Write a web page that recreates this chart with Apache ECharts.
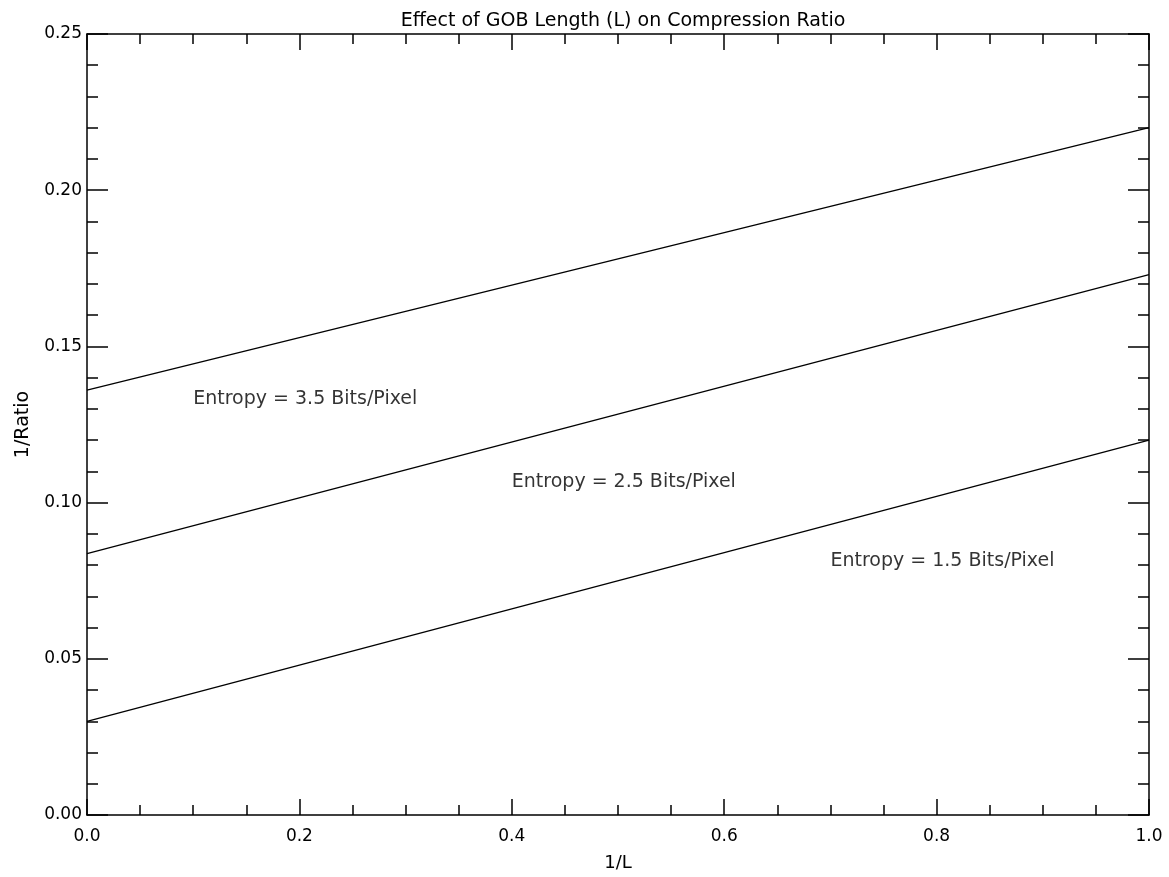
<!DOCTYPE html>
<html>
<head>
<meta charset="utf-8">
<title>Effect of GOB Length (L) on Compression Ratio</title>
<script src="https://cdn.jsdelivr.net/npm/echarts@6/dist/echarts.min.js"></script>
<style>
  html, body { margin: 0; padding: 0; background: #ffffff; }
  #chart { width: 1169px; height: 877px; }
</style>
</head>
<body>
<div id="chart"></div>
<script>
// 1/L sample points at the ends of each straight line
const invLength = [0, 1];

// 1/Ratio for each source entropy
const entropy35 = [0.136, 0.220];
const entropy25 = [0.0837, 0.173];
const entropy15 = [0.030, 0.120];

// In-plot annotations (data coordinates)
const noteTexts = [
  'Entropy = 3.5 Bits/Pixel',
  'Entropy = 2.5 Bits/Pixel',
  'Entropy = 1.5 Bits/Pixel'
];
const noteX = [0.1, 0.4, 0.7];
const noteY = [0.133, 0.1066, 0.0813];

const FONT = 'DejaVu Sans';
const INK = '#000000';

function lineSeries(values) {
  return {
    type: 'line',
    data: invLength.map((x, i) => [x, values[i]]),
    showSymbol: false,
    symbol: 'none',
    lineStyle: { color: INK, width: 1.3 },
    silent: true
  };
}

function xAxisDef(pos, showLabels) {
  return {
    type: 'value',
    position: pos,
    min: 0, max: 1, interval: 0.2,
    name: showLabels ? '1/L' : '',
    nameLocation: 'middle',
    nameGap: 39,
    nameTextStyle: { color: INK, fontFamily: FONT, fontSize: 18 },
    axisLine: { show: true, onZero: false, lineStyle: { color: INK, width: 1.5 } },
    axisTick: { show: true, inside: true, length: 16, lineStyle: { color: INK, width: 1.5 } },
    minorTick: { show: true, splitNumber: 4, length: 10, lineStyle: { color: INK, width: 1.5 } },
    splitLine: { show: false },
    minorSplitLine: { show: false },
    axisLabel: {
      show: showLabels, margin: 13, color: INK, fontFamily: FONT, fontSize: 17,
      formatter: v => v.toFixed(1)
    }
  };
}

function yAxisDef(pos, showLabels) {
  return {
    type: 'value',
    position: pos,
    min: 0, max: 0.25, interval: 0.05,
    name: showLabels ? '1/Ratio' : '',
    nameLocation: 'middle',
    nameGap: 54,
    nameTextStyle: { color: INK, fontFamily: FONT, fontSize: 19 },
    axisLine: { show: true, onZero: false, lineStyle: { color: INK, width: 1.5 } },
    axisTick: { show: true, inside: true, length: 21, lineStyle: { color: INK, width: 1.5 } },
    minorTick: { show: true, splitNumber: 5, length: 11, lineStyle: { color: INK, width: 1.5 } },
    splitLine: { show: false },
    minorSplitLine: { show: false },
    axisLabel: {
      show: showLabels, margin: 5, color: INK, fontFamily: FONT, fontSize: 17,
      formatter: v => v.toFixed(2)
    }
  };
}

const chart = echarts.init(document.getElementById('chart'), null, { renderer: 'canvas' });

chart.setOption({
  animation: false,
  backgroundColor: '#ffffff',
  title: {
    text: 'Effect of GOB Length (L) on Compression Ratio',
    left: 618,
    textAlign: 'center',
    top: 7,
    textStyle: { color: INK, fontFamily: FONT, fontSize: 19, fontWeight: 'normal' }
  },
  grid: { left: 87, right: 20, top: 34, bottom: 57, containLabel: false },
  xAxis: [xAxisDef('bottom', true), xAxisDef('top', false)],
  yAxis: [yAxisDef('left', true), yAxisDef('right', false)],
  series: [
    lineSeries(entropy35),
    lineSeries(entropy25),
    lineSeries(entropy15),
    {
      type: 'scatter',
      symbolSize: 0,
      silent: true,
      data: noteTexts.map((t, i) => ({ value: [noteX[i], noteY[i]], name: t })),
      label: {
        show: true,
        position: 'right',
        distance: 0,
        align: 'left',
        verticalAlign: 'middle',
        color: INK,
        fontFamily: FONT,
        fontSize: 19,
        formatter: p => p.name
      }
    }
  ]
});
</script>
</body>
</html>
